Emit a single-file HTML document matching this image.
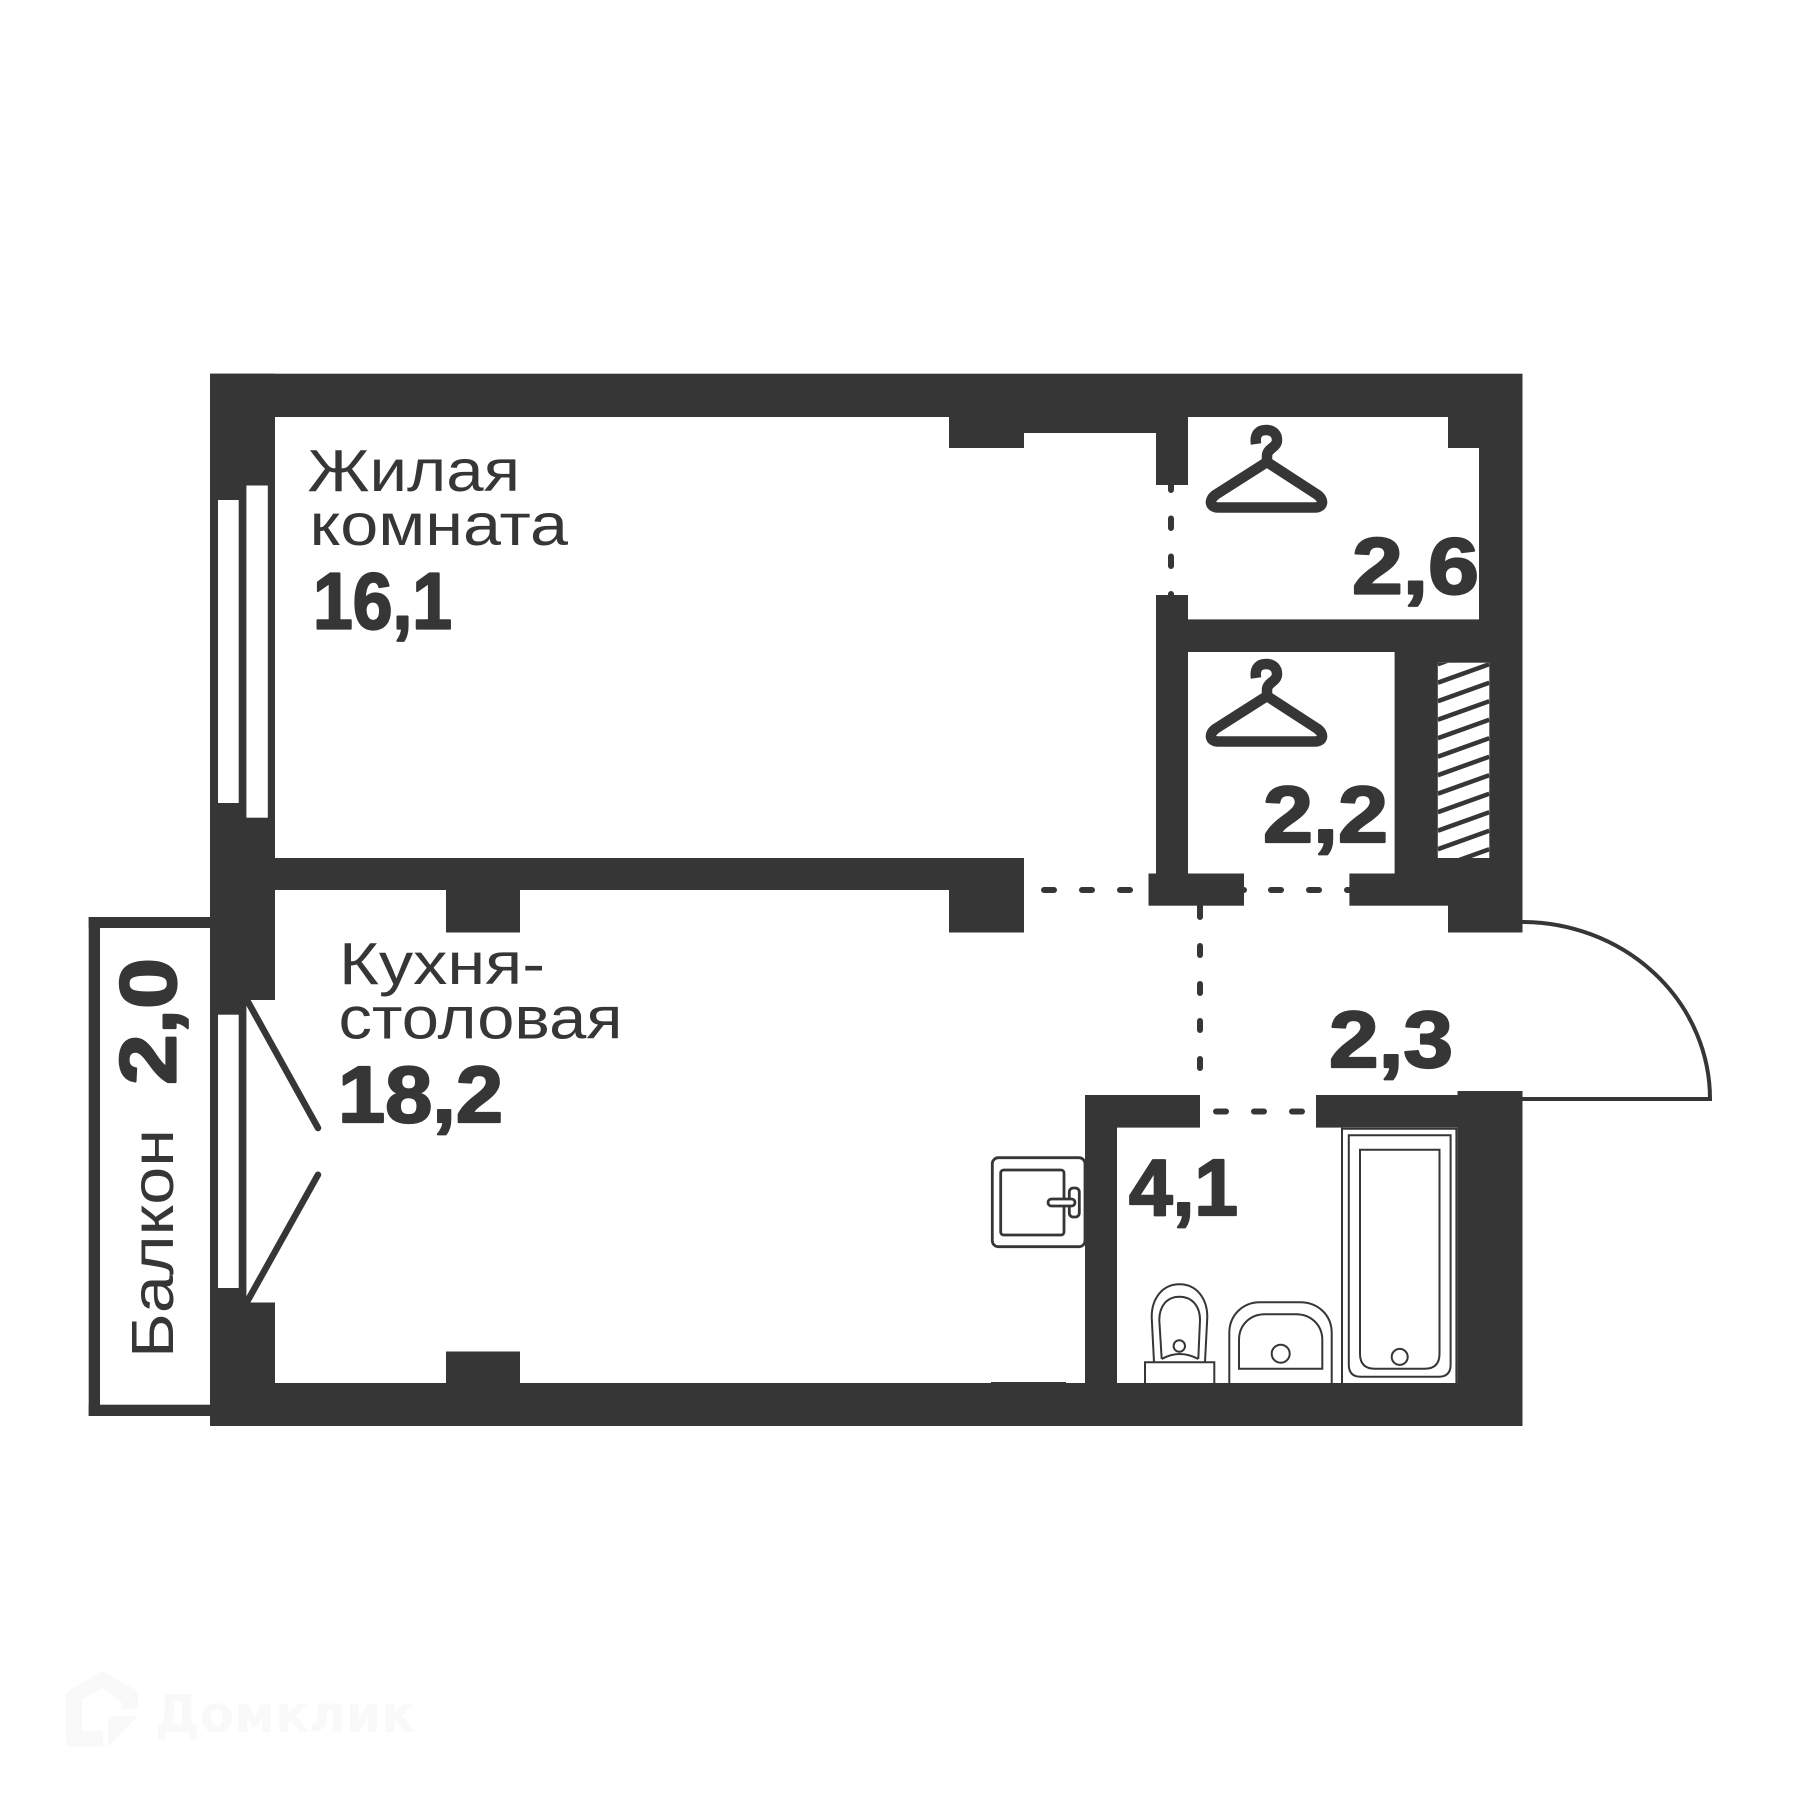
<!DOCTYPE html>
<html lang="ru">
<head>
<meta charset="utf-8">
<title>Планировка</title>
<style>
html,body{margin:0;padding:0;background:#fff}
svg{display:block}
.l{font-family:"Liberation Sans",sans-serif;font-size:59px;fill:#363636}
.b{font-family:"Liberation Sans",sans-serif;font-weight:700;font-size:80px;fill:#363636;stroke:#363636;stroke-width:2.2px;stroke-linejoin:round}
</style>
</head>
<body>
<svg xmlns="http://www.w3.org/2000/svg" width="1800" height="1800" viewBox="0 0 1800 1800">
<defs>
<clipPath id="hc"><rect x="1437.8" y="662.7" width="51.5" height="195.3"/></clipPath>
</defs>
<rect width="1800" height="1800" fill="#fff"/>

<!-- watermark -->
<path fill="#f9f9f9" d="M102 1671L134 1689Q138 1691 138 1696V1709H122V1703L102 1688L82 1700V1731H103V1747H72Q66 1747 66 1741V1696Q66 1692 70 1690Z"/>
<path fill="#f9f9f9" d="M108 1747V1722Q108 1717 113 1716L138 1716Z"/>
<text x="155" y="1732" font-family="'DejaVu Sans',sans-serif" font-weight="700" font-size="52" fill="#f9f9f9" textLength="260" lengthAdjust="spacingAndGlyphs">Домклик</text>

<!-- dashes -->
<g stroke="#363636" stroke-width="6" stroke-linecap="round" fill="none">
<path d="M1044 890H1054M1082 890H1092M1120 890H1130M1234 890H1244M1271 890H1281M1309 890H1319M1347 890H1357"/>
<path d="M1171 481V490M1171 518.5V528M1171 556.5V566M1171 594V604"/>
<path d="M1200 904V917M1200 946V955M1200 984V993M1200 1021V1030M1200 1059V1068"/>
<path d="M1216 1111.5H1226M1254 1111.5H1264M1292 1111.5H1302"/>
</g>

<!-- walls -->
<g fill="#363636">
<rect x="210" y="373.7" width="1312.5" height="43.3"/>
<rect x="210" y="373.7" width="65" height="626.3"/>
<rect x="210" y="1000" width="36.4" height="303"/>
<rect x="210" y="1302.5" width="65" height="123.5"/>
<rect x="275" y="858" width="749" height="32"/>
<rect x="446" y="885" width="74" height="47.5"/>
<rect x="949" y="858" width="75" height="74.5"/>
<rect x="949" y="417" width="75" height="31"/>
<rect x="1024" y="417" width="164" height="16"/>
<rect x="1156" y="417" width="32" height="68"/>
<rect x="1448" y="417" width="74.5" height="31"/>
<rect x="1479" y="417" width="43.5" height="515.5"/>
<rect x="1156" y="595" width="32" height="279"/>
<rect x="1156" y="619.4" width="366" height="32.6"/>
<rect x="1394.6" y="652" width="127.9" height="222"/>
<rect x="1148.5" y="873.5" width="95.5" height="32.2"/>
<rect x="1349.4" y="873.5" width="173" height="32.2"/>
<rect x="1448" y="873.5" width="74.5" height="59"/>
<rect x="1085" y="1095" width="115" height="32.6"/>
<rect x="1085" y="1095" width="32" height="331"/>
<rect x="1316" y="1095" width="142" height="32.6"/>
<rect x="1457.5" y="1091" width="65" height="335"/>
<rect x="210" y="1383" width="1312.5" height="43"/>
<rect x="446" y="1351.5" width="74" height="32"/>
<rect x="991" y="1382" width="75" height="2"/>
<!-- balcony frame -->
<rect x="88.7" y="917" width="121.3" height="11"/>
<rect x="88.7" y="917" width="11.3" height="499"/>
<rect x="88.7" y="1404.7" width="121.3" height="11.3"/>
</g>

<!-- windows -->
<g fill="#fff">
<rect x="218" y="500" width="20.7" height="303"/>
<rect x="246.4" y="485.5" width="21.4" height="332.2"/>
<rect x="218" y="1014.7" width="20.7" height="273.3"/>
<rect x="1437.8" y="662.7" width="51.5" height="195.3"/>
</g>

<!-- hatch -->
<g clip-path="url(#hc)" stroke="#363636" stroke-width="4.5">
<path d="M1437.8 664.2L1489.3 645.7M1437.8 682.7L1489.3 664.2M1437.8 701.2L1489.3 682.7M1437.8 719.7L1489.3 701.2M1437.8 738.2L1489.3 719.7M1437.8 756.7L1489.3 738.2M1437.8 775.2L1489.3 756.7M1437.8 793.7L1489.3 775.2M1437.8 812.2L1489.3 793.7M1437.8 830.7L1489.3 812.2M1437.8 849.2L1489.3 830.7M1437.8 867.7L1489.3 849.2"/>
</g>

<!-- swing door lines -->
<g stroke="#363636" stroke-width="6.5" stroke-linecap="round" fill="none">
<path d="M247.5 1001L318 1128"/>
<path d="M247.5 1301L318 1174.7"/>
</g>

<!-- entrance door arc -->
<path d="M1522 922A188 177 0 0 1 1710 1099H1522" fill="none" stroke="#363636" stroke-width="4"/>

<!-- hangers -->
<g fill="none" stroke="#363636" stroke-width="10.5" stroke-linejoin="round">
<path d="M1256 444C1254.500 434 1259 430 1266 430C1273 430 1277 434 1277 440C1277 448 1267 448 1267 456V462"/>
<path d="M1267 462L1216 494.500C1208 500 1210 507.500 1218 507.500H1315C1323 507.500 1325 500 1317 494.500Z"/>
</g>
<g fill="none" stroke="#363636" stroke-width="10.5" stroke-linejoin="round" transform="translate(0 234)">
<path d="M1256 444C1254.500 434 1259 430 1266 430C1273 430 1277 434 1277 440C1277 448 1267 448 1267 456V462"/>
<path d="M1267 462L1216 494.500C1208 500 1210 507.500 1218 507.500H1315C1323 507.500 1325 500 1317 494.500Z"/>
</g>

<!-- kitchen stove/sink -->
<rect x="992.300" y="1157.700" width="92.700" height="89" rx="6" fill="#fff" stroke="#363636" stroke-width="2.800"/>
<rect x="1000.700" y="1170" width="63.300" height="65" rx="3" fill="#fff" stroke="#363636" stroke-width="2.800"/>
<rect x="1069.300" y="1188" width="10" height="29" rx="4" fill="#fff" stroke="#363636" stroke-width="2.800"/>
<rect x="1048" y="1199" width="27" height="7" rx="3.500" fill="#fff" stroke="#363636" stroke-width="2.800"/>

<!-- toilet -->
<g fill="none" stroke="#363636" stroke-width="2">
<path d="M1154 1362L1151.700 1317C1151.700 1299 1162 1284.300 1179.500 1284.300C1197 1284.300 1207.300 1299 1207.300 1317L1205 1362"/>
<path d="M1161.700 1359L1159.300 1320C1159.300 1306 1167 1296.700 1179.500 1296.700C1192 1296.700 1200 1306 1200 1320L1198.300 1359"/>
<path d="M1161.700 1359Q1179.500 1349 1198.300 1359"/>
<circle cx="1179.300" cy="1346" r="5.700"/>
<path d="M1145 1383V1362.300H1214.300V1383"/>
<!-- sink -->
<path d="M1229.300 1383V1333C1229.300 1315 1243 1302.300 1260 1302.300H1300C1318 1302.300 1331.700 1315 1331.700 1333V1383"/>
<path d="M1239 1368.700V1340C1239 1325 1250 1314.300 1265 1314.300H1296C1311 1314.300 1322.300 1325 1322.300 1340V1368.700Z"/>
<circle cx="1280.700" cy="1353.700" r="9"/>
<!-- bath -->
<path d="M1342 1127.600V1383" />
<path d="M1342 1128.800H1456.400V1383"/>
<path d="M1348.800 1135.300H1450.600V1364.800Q1450.600 1376.800 1438.600 1376.800H1360.800Q1348.800 1376.800 1348.800 1364.800Z"/>
<path d="M1360 1149.800H1439.500V1353.700Q1439.500 1368.700 1424.500 1368.700H1375Q1360 1368.700 1360 1353.700Z"/>
<circle cx="1399.700" cy="1356.900" r="8"/>
</g>

<!-- labels -->
<text class="l" x="307.500" y="491" textLength="212.500" lengthAdjust="spacingAndGlyphs">Жилая</text>
<text class="l" x="309.600" y="545" textLength="258.400" lengthAdjust="spacingAndGlyphs">комната</text>
<text class="b" x="313" y="628.600" textLength="139" lengthAdjust="spacingAndGlyphs">16,1</text>
<text class="l" x="339" y="984" textLength="206" lengthAdjust="spacingAndGlyphs">Кухня-</text>
<text class="l" x="338.500" y="1038.400" textLength="284" lengthAdjust="spacingAndGlyphs">столовая</text>
<text class="b" x="338" y="1121.900" textLength="165" lengthAdjust="spacingAndGlyphs">18,2</text>
<text class="b" x="1352" y="593.400" textLength="127" lengthAdjust="spacingAndGlyphs">2,6</text>
<text class="b" x="1263" y="841.800" textLength="125" lengthAdjust="spacingAndGlyphs">2,2</text>
<text class="b" x="1329" y="1067" textLength="124" lengthAdjust="spacingAndGlyphs">2,3</text>
<text class="b" x="1129" y="1214.900" textLength="109" lengthAdjust="spacingAndGlyphs">4,1</text>
<text class="b" transform="translate(175.600 1085) rotate(-90)" x="0" y="0" textLength="127" lengthAdjust="spacingAndGlyphs">2,0</text>
<text class="l" transform="translate(173 1358) rotate(-90)" x="0" y="0" textLength="229" lengthAdjust="spacingAndGlyphs">Балкон</text>
</svg>
</body>
</html>
